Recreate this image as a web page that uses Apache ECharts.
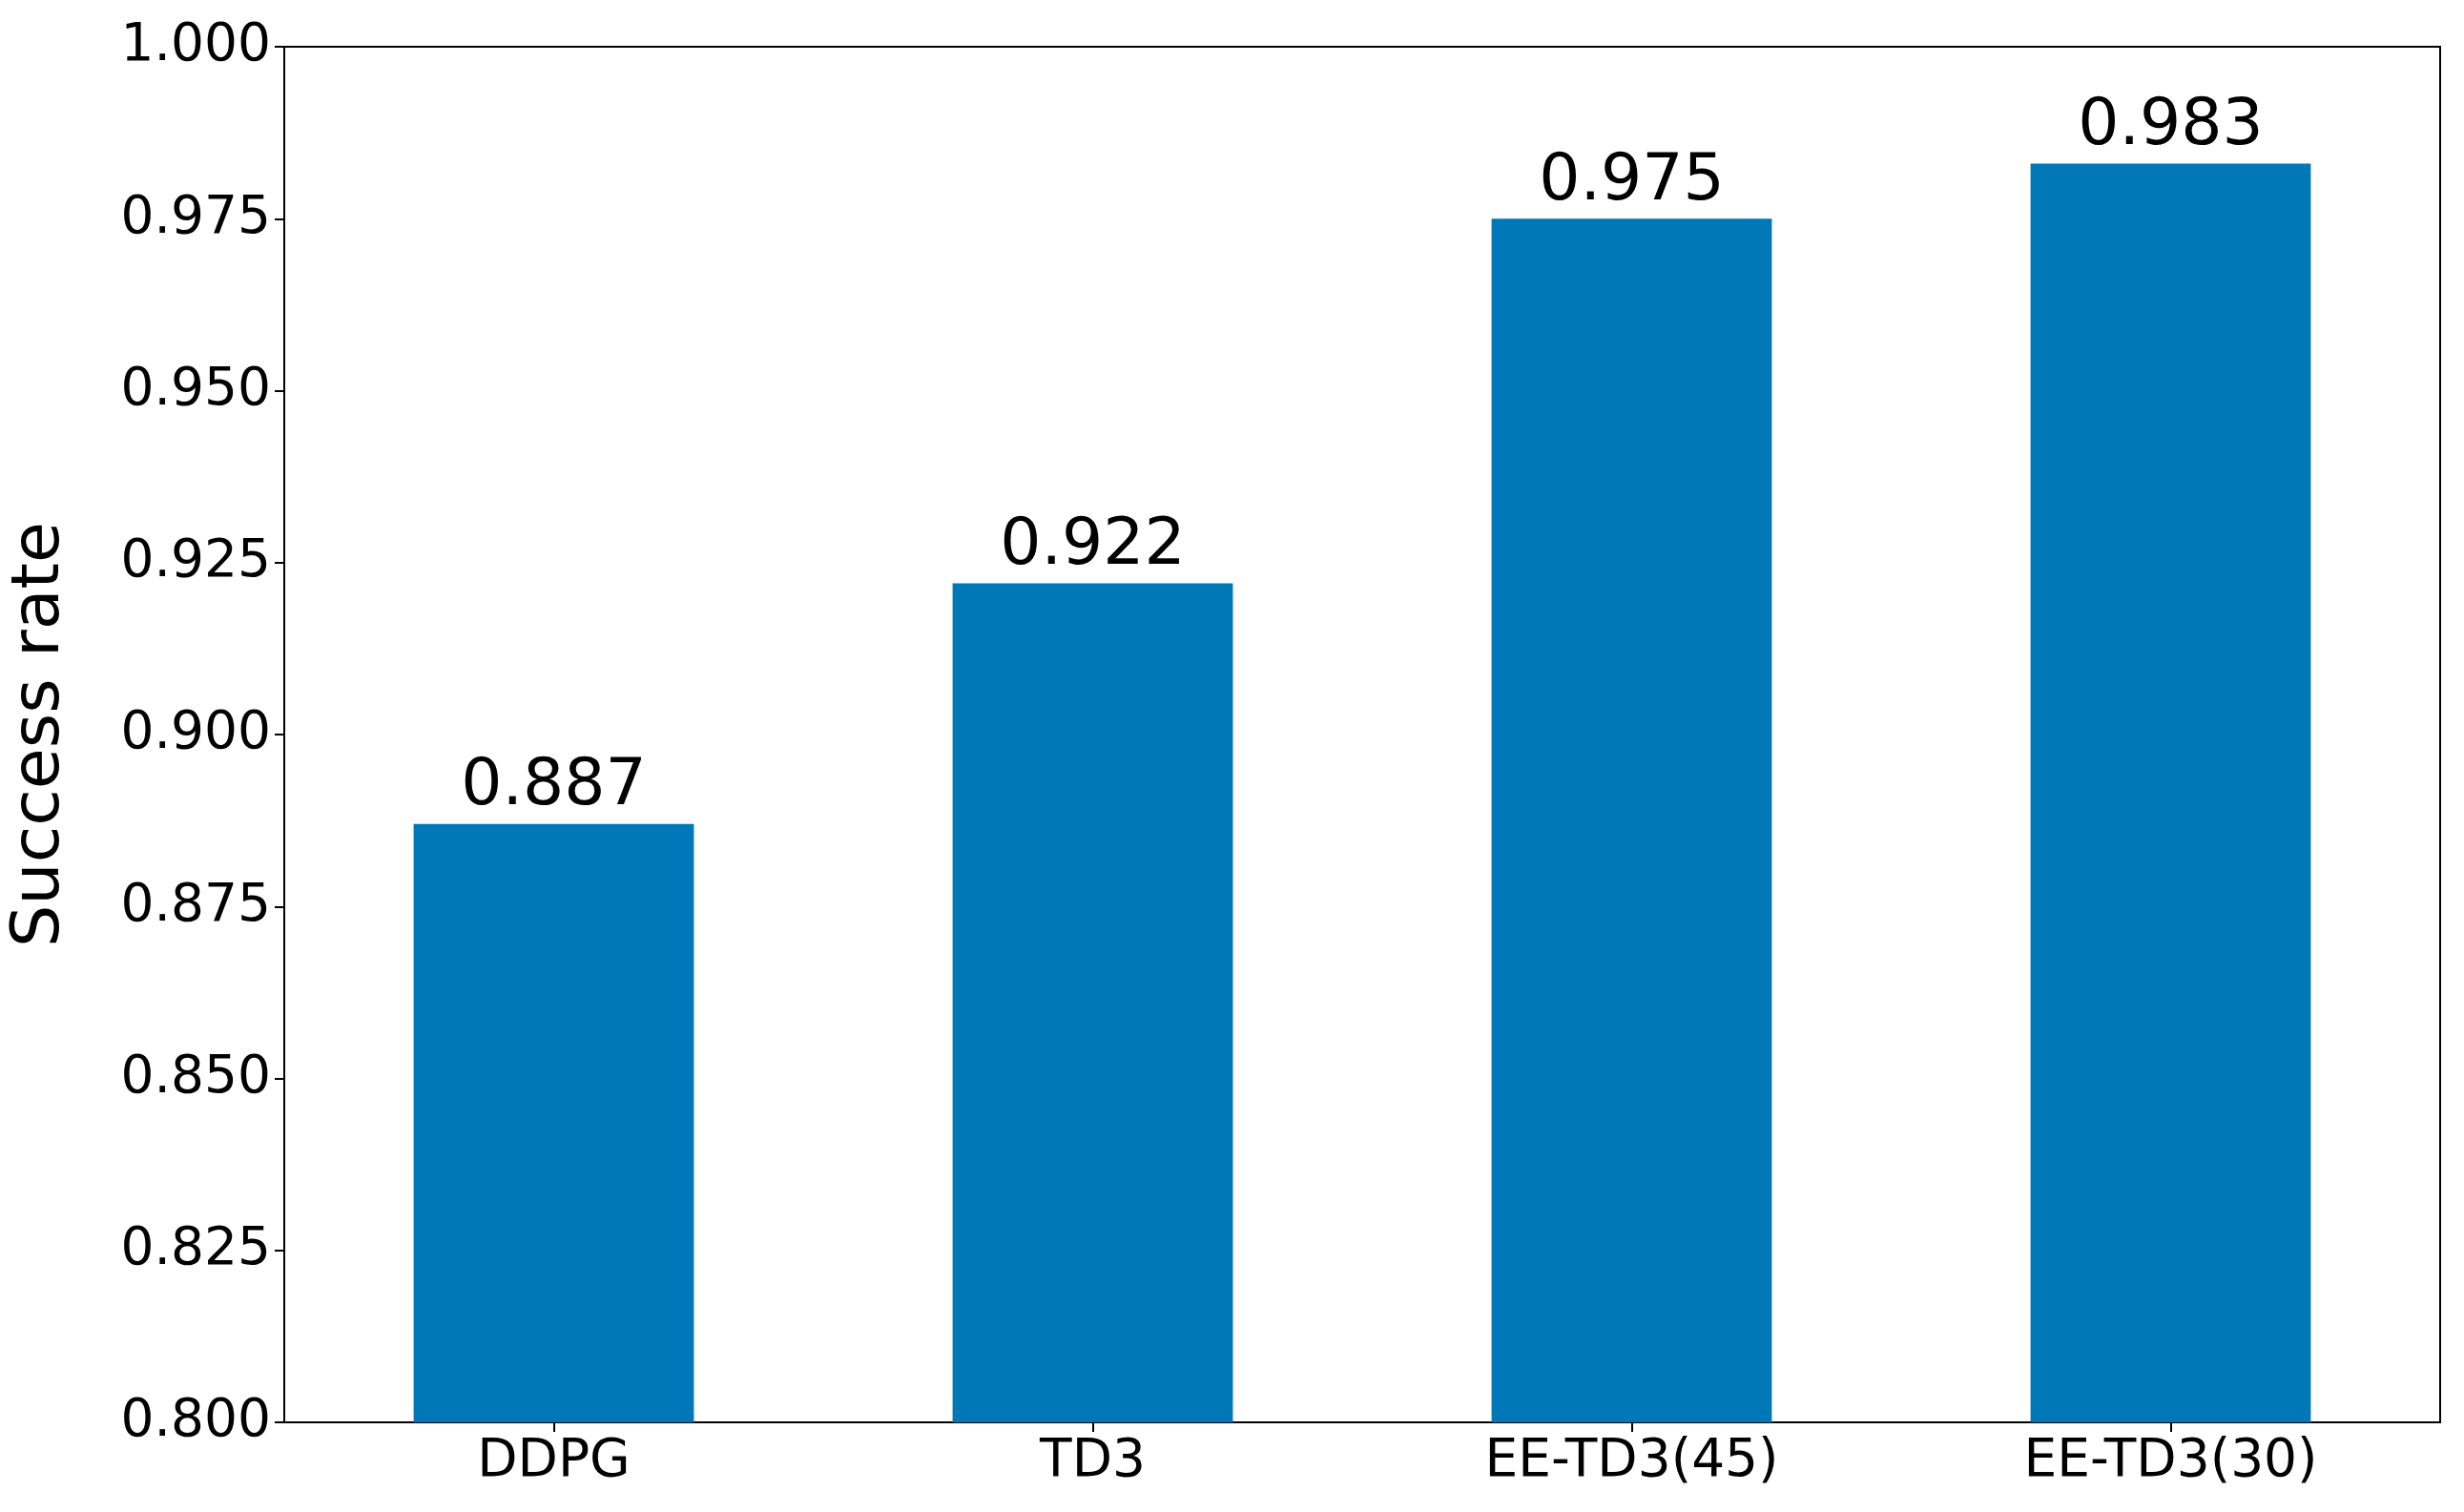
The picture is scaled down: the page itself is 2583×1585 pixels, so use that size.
<!DOCTYPE html>
<html><head><meta charset="utf-8">
<script src="https://cdn.jsdelivr.net/npm/echarts@6/dist/echarts.min.js"></script>
<style>html,body{margin:0;padding:0;background:#fff}#c{width:2583px;height:1585px}</style>
</head><body><div id="c"></div>
<script>
const categories = ['DDPG', 'TD3', 'EE-TD3(45)', 'EE-TD3(30)'];
const successRate = [0.887, 0.922, 0.975, 0.983];
const yTicks = {min: 0.8, max: 1.0, interval: 0.025};

const chart = echarts.init(document.getElementById('c'));
const font = 'DejaVu Sans';
chart.setOption({
  animation: false,
  backgroundColor: '#fff',
  grid: {left: 277, right: 25, top: 49, bottom: 94, show: true, borderColor: '#000', borderWidth: 2},
  xAxis: {
    type: 'category', data: categories, boundaryGap: true,
    axisLine: {show: true, lineStyle: {color: '#000', width: 2}},
    axisTick: {show: true, alignWithLabel: true, length: 10, lineStyle: {color: '#000', width: 2}},
    axisLabel: {color: '#000', fontFamily: font, fontSize: 55, margin: 14}
  },
  yAxis: {
    type: 'value', min: yTicks.min, max: yTicks.max, interval: yTicks.interval,
    name: 'Success rate', nameLocation: 'middle', nameGap: 220,
    nameTextStyle: {color: '#000', fontFamily: font, fontSize: 70},
    splitLine: {show: false},
    axisLine: {show: true, lineStyle: {color: '#000', width: 2}},
    axisTick: {show: true, length: 10, lineStyle: {color: '#000', width: 2}},
    axisLabel: {color: '#000', fontFamily: font, fontSize: 55, margin: 14,
      formatter: v => v.toFixed(3)}
  },
  series: [{
    type: 'bar', data: successRate, barWidth: '52%',
    itemStyle: {color: '#0077B6'},
    label: {show: true, position: 'top', distance: 4, color: '#000', fontFamily: font, fontSize: 68,
      formatter: p => p.value.toFixed(3)}
  }]
});
</script></body></html>
